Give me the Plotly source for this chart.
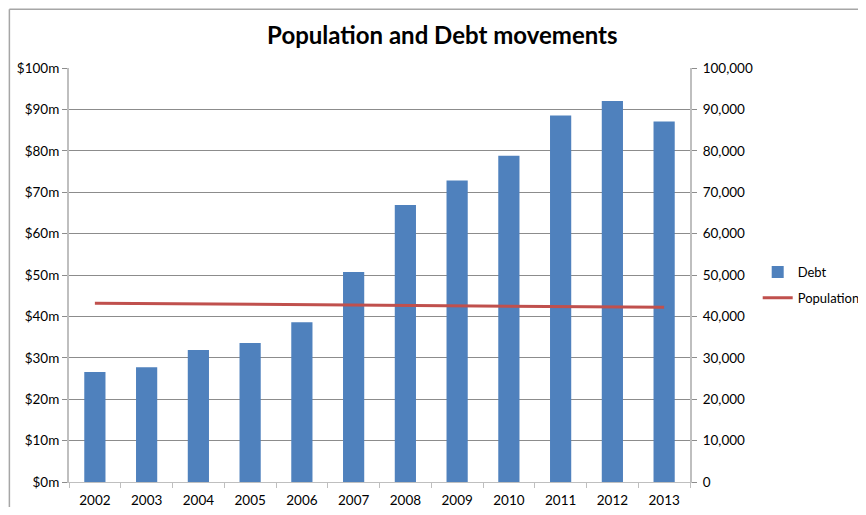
import plotly.graph_objects as go

years = ["2002", "2003", "2004", "2005", "2006", "2007", "2008", "2009", "2010", "2011", "2012", "2013"]
debt = [26.6, 27.7, 31.9, 33.6, 38.6, 50.7, 66.9, 72.8, 78.8, 88.5, 92.0, 87.1]
population = [43200, 43100, 43000, 42900, 42800, 42700, 42600, 42500, 42400, 42300, 42250, 42200]
left_ticks = [0, 10, 20, 30, 40, 50, 60, 70, 80, 90, 100]
left_labels = ["$%dm" % v for v in left_ticks]
right_ticks = [0, 10000, 20000, 30000, 40000, 50000, 60000, 70000, 80000, 90000, 100000]
right_labels = ["0" if v == 0 else f"{v:,}" for v in right_ticks]

FONT = "Lato, 'Open Sans', sans-serif"
GRID = "#8c8c8c"
AXIS = "#bfbfbf"

fig = go.Figure()
fig.add_trace(go.Bar(x=years, y=debt, name="Debt", legendgroup="a",
                     marker=dict(color="#4f81bd", line=dict(width=0)), yaxis="y"))
fig.add_trace(go.Scatter(x=years, y=population, name="Population", mode="lines", legendgroup="b",
                         line=dict(color="#c0504d", width=3), yaxis="y2"))

fig.update_layout(
    width=850, height=499,
    margin=dict(l=61, r=168, t=60, b=25, autoexpand=False),
    paper_bgcolor="white", plot_bgcolor="white",
    font=dict(family=FONT, size=13.5, color="#000000"),
    title=dict(text="<b>Population and Debt movements</b>", x=0.511, xanchor="center", xref="container",
               y=0.944, yref="container", yanchor="middle", font=dict(size=24, family=FONT, color="#000")),
    bargap=0.59,
    showlegend=True,
    legend=dict(x=0.882, y=0.445, xref="container", yref="container", xanchor="left", yanchor="middle",
                font=dict(size=13), bgcolor="rgba(0,0,0,0)", tracegroupgap=6),
    xaxis=dict(type="category", showgrid=False, showline=True, linecolor=AXIS, linewidth=1,
               ticks="outside", tickson="boundaries", ticklen=5, tickcolor=AXIS, automargin=False,
               ticklabelstandoff=6, tickfont=dict(size=13.5)),
    yaxis=dict(range=[0, 100], tickvals=left_ticks, ticktext=left_labels, showgrid=True, automargin=False,
               gridcolor=GRID, gridwidth=1, showline=True, linecolor=AXIS, linewidth=2,
               ticks="outside", ticklen=5, tickcolor=GRID, zeroline=False, tickfont=dict(size=13.5)),
    yaxis2=dict(range=[0, 100000], tickvals=right_ticks, ticktext=right_labels, overlaying="y",
                side="right", showgrid=False, showline=True, linecolor=AXIS, linewidth=2, automargin=False,
                ticks="outside", ticklen=5, tickcolor=GRID, zeroline=False, tickfont=dict(size=13.5),
                ticklabelstandoff=3),
    shapes=[
        dict(type="line", xref="paper", yref="paper", x0=-0.096, x1=1.3, y0=1.142, y1=1.142,
             line=dict(color="#a6a6a6", width=1.5)),
        dict(type="line", xref="paper", yref="paper", x0=-0.096, x1=-0.096, y0=1.142, y1=-0.2,
             line=dict(color="#a6a6a6", width=1.5)),
    ],
)

fig.write_html("out.html")
